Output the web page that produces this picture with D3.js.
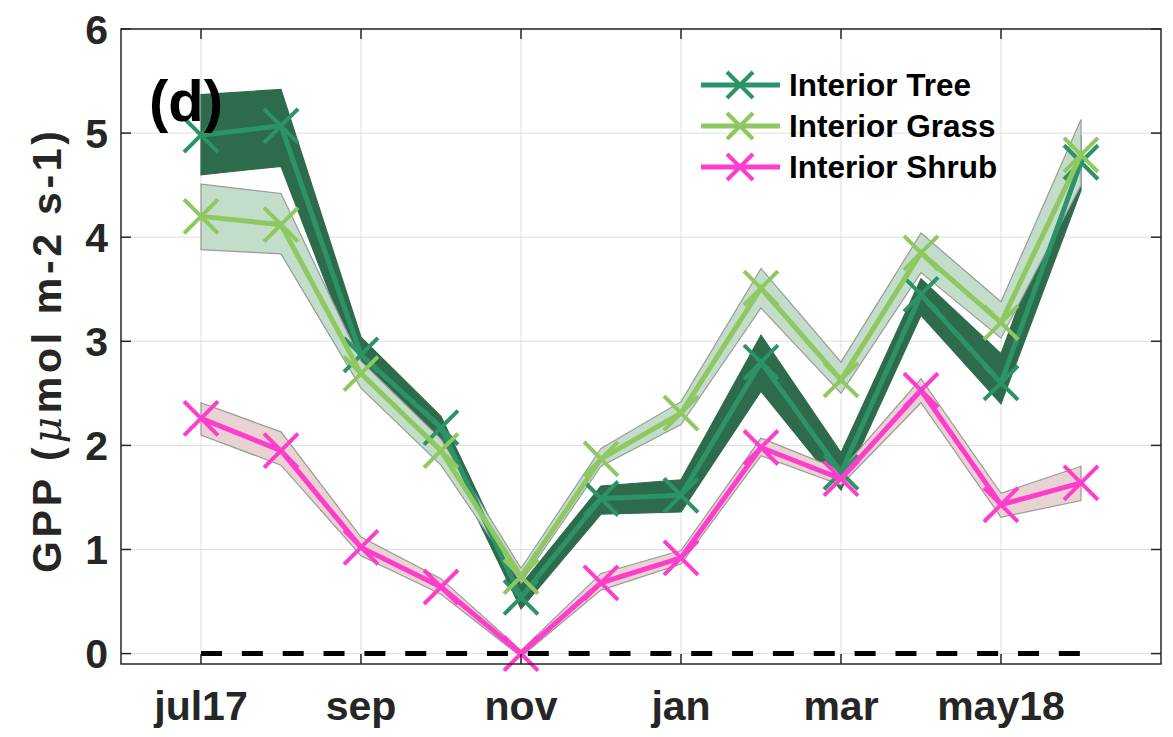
<!DOCTYPE html>
<html>
<head>
<meta charset="utf-8">
<script src="https://cdn.jsdelivr.net/npm/d3@7"></script>
<style>
  html, body { margin: 0; padding: 0; background: #fff; }
  svg { display: block; }
  text { font-family: "Liberation Sans", Arial, Helvetica, sans-serif; font-weight: bold; }
</style>
</head>
<body>
<svg id="chart" width="1173" height="737"></svg>
<script>
// Monthly GPP, July 2017 – June 2018
const months = ["jul17", "aug", "sep", "oct", "nov", "dec", "jan", "feb", "mar", "apr", "may18", "jun"];
const tickMonths = ["jul17", "sep", "nov", "jan", "mar", "may18"];
const yTicks = [0, 1, 2, 3, 4, 5, 6];

const treeMean  = [4.98, 5.07, 2.87, 2.17, 0.54, 1.49, 1.52, 2.80, 1.74, 3.45, 2.60, 4.72];
const treeLow   = [4.60, 4.68, 2.68, 2.02, 0.43, 1.34, 1.36, 2.52, 1.57, 3.25, 2.40, 4.45];
const treeHigh  = [5.37, 5.42, 3.04, 2.28, 0.66, 1.61, 1.67, 3.06, 1.93, 3.60, 2.88, 4.98];

const grassMean = [4.20, 4.12, 2.69, 1.95, 0.74, 1.87, 2.31, 3.51, 2.63, 3.85, 3.18, 4.79];
const grassLow  = [3.88, 3.84, 2.55, 1.81, 0.68, 1.80, 2.20, 3.32, 2.50, 3.66, 3.03, 4.50];
const grassHigh = [4.51, 4.42, 2.81, 2.06, 0.82, 1.97, 2.42, 3.70, 2.80, 4.04, 3.38, 5.13];

const shrubMean = [2.26, 1.95, 1.02, 0.64, 0.00, 0.68, 0.92, 1.98, 1.68, 2.53, 1.43, 1.64];
const shrubLow  = [2.10, 1.81, 0.94, 0.57, -0.03, 0.61, 0.86, 1.90, 1.62, 2.41, 1.31, 1.47];
const shrubHigh = [2.41, 2.13, 1.12, 0.72, 0.03, 0.77, 0.99, 2.07, 1.76, 2.64, 1.54, 1.80];

const series = [
  { name: "Interior Tree",  mean: treeMean,  low: treeLow,  high: treeHigh,  line: "#2b9366", fill: "#2e6b4d", edge: "#2e6b4d" },
  { name: "Interior Grass", mean: grassMean, low: grassLow, high: grassHigh, line: "#8fc860", fill: "#c2ddca", edge: "#9a9a9a" },
  { name: "Interior Shrub", mean: shrubMean, low: shrubLow, high: shrubHigh, line: "#ff3dcc", fill: "#e8d3d2", edge: "#9a9a9a" }
];

const svg = d3.select("#chart");
const plot = { left: 121, right: 1161, top: 29, bottom: 664 };

// month index: 0 = jul17 ... 11 = jun18; axis spans one month either side
const x = d3.scaleLinear().domain([-1, 12]).range([plot.left, plot.right]);
const y = d3.scaleLinear().domain([-0.1, 6]).range([plot.bottom, plot.top]);
const mx = m => x(months.indexOf(m));

// grid
const grid = svg.append("g").attr("stroke", "#dedede").attr("stroke-width", 1);
tickMonths.forEach(m => {
  grid.append("line").attr("x1", mx(m)).attr("x2", mx(m)).attr("y1", plot.top).attr("y2", plot.bottom);
});
yTicks.forEach(v => {
  grid.append("line").attr("x1", plot.left).attr("x2", plot.right).attr("y1", y(v)).attr("y2", y(v));
});

// zero reference line
svg.append("line")
  .attr("x1", x(0)).attr("x2", x(11))
  .attr("y1", y(0)).attr("y2", y(0))
  .attr("stroke", "#000").attr("stroke-width", 5)
  .attr("stroke-dasharray", "21,19.85");

// uncertainty bands
const area = d3.area()
  .x((d, i) => x(i))
  .y0(d => y(d[0]))
  .y1(d => y(d[1]));

series.forEach(s => {
  const pts = s.low.map((lo, i) => [lo, s.high[i]]);
  svg.append("path")
    .attr("d", area(pts))
    .attr("fill", s.fill)
    .attr("stroke", s.edge)
    .attr("stroke-width", 1.2);
});

// mean lines with x markers
const line = d3.line().x((d, i) => x(i)).y(d => y(d));
const xMark = r => `M${-r},${-r}L${r},${r}M${-r},${r}L${r},${-r}`;

series.forEach(s => {
  svg.append("path")
    .attr("d", line(s.mean))
    .attr("fill", "none")
    .attr("stroke", s.line)
    .attr("stroke-width", 5)
    .attr("stroke-linejoin", "miter");
  svg.append("g").selectAll("path")
    .data(s.mean)
    .join("path")
    .attr("transform", (d, i) => `translate(${x(i)},${y(d)})`)
    .attr("d", xMark(17))
    .attr("stroke", s.line)
    .attr("stroke-width", 4)
    .attr("fill", "none");
});

// axes box with inward ticks
const axisColor = "#262626";
svg.append("rect")
  .attr("x", plot.left).attr("y", plot.top)
  .attr("width", plot.right - plot.left).attr("height", plot.bottom - plot.top)
  .attr("fill", "none").attr("stroke", axisColor).attr("stroke-width", 1.5);

const ticks = svg.append("g").attr("stroke", axisColor).attr("stroke-width", 1.5);
const tl = 10;
tickMonths.forEach(m => {
  ticks.append("line").attr("x1", mx(m)).attr("x2", mx(m)).attr("y1", plot.bottom).attr("y2", plot.bottom - tl);
  ticks.append("line").attr("x1", mx(m)).attr("x2", mx(m)).attr("y1", plot.top).attr("y2", plot.top + tl);
});
yTicks.forEach(v => {
  ticks.append("line").attr("x1", plot.left).attr("x2", plot.left + tl).attr("y1", y(v)).attr("y2", y(v));
  ticks.append("line").attr("x1", plot.right).attr("x2", plot.right - tl).attr("y1", y(v)).attr("y2", y(v));
});

// tick labels
svg.append("g").selectAll("text")
  .data(tickMonths)
  .join("text")
  .attr("x", d => mx(d))
  .attr("y", 720)
  .attr("text-anchor", "middle")
  .attr("font-size", 41)
  .attr("fill", axisColor)
  .text(d => d);

svg.append("g").selectAll("text")
  .data(yTicks)
  .join("text")
  .attr("x", 108)
  .attr("y", d => y(d))
  .attr("dy", "0.36em")
  .attr("text-anchor", "end")
  .attr("font-size", 41)
  .attr("fill", axisColor)
  .text(d => d);

// y-axis title
const yt = svg.append("text")
  .attr("transform", "translate(61,352) rotate(-90)")
  .attr("text-anchor", "middle")
  .attr("font-size", 41)
  .attr("textLength", 442)
  .attr("lengthAdjust", "spacing")
  .attr("fill", axisColor);
yt.append("tspan").text("GPP (");
yt.append("tspan").attr("font-style", "italic").attr("font-weight", "normal").attr("font-family", "DejaVu Serif, serif").text("μ");
yt.append("tspan").text("mol m-2 s-1)");

// panel letter
svg.append("text")
  .attr("x", 149).attr("y", 121)
  .attr("font-size", 58)
  .attr("fill", "#000")
  .text("(d)");

// legend
const legend = svg.append("g");
series.forEach((s, i) => {
  const ly = 85 + i * 41;
  legend.append("line")
    .attr("x1", 701).attr("x2", 780).attr("y1", ly).attr("y2", ly)
    .attr("stroke", s.line).attr("stroke-width", 5);
  legend.append("path")
    .attr("transform", `translate(740,${ly})`)
    .attr("d", xMark(13))
    .attr("stroke", s.line).attr("stroke-width", 4).attr("fill", "none");
  legend.append("text")
    .attr("x", 789).attr("y", ly)
    .attr("dy", "0.36em")
    .attr("font-size", 31.5)
    .attr("fill", "#000")
    .text(s.name);
});
</script>
</body>
</html>
